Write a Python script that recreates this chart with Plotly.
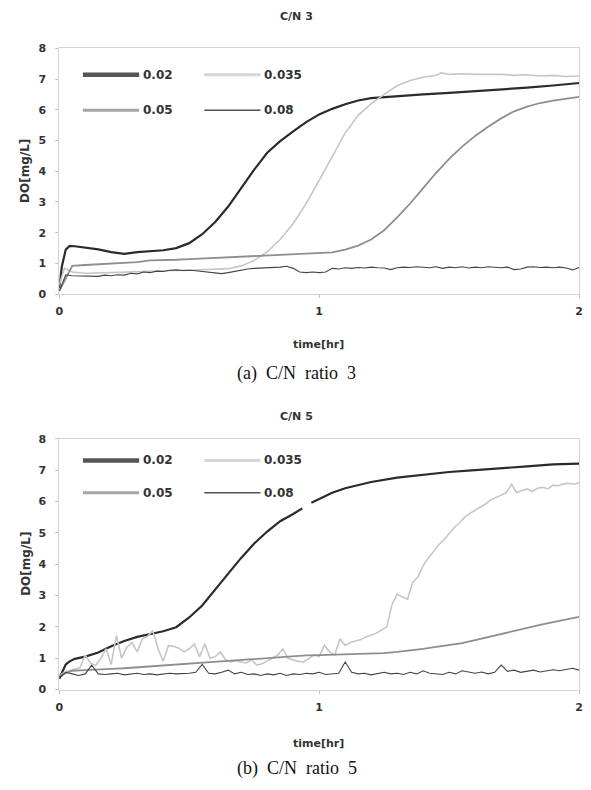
import plotly.graph_objects as go

# ---------------- data ----------------
series_names = ["0.02", "0.035", "0.05", "0.08"]
x_ticks = [0, 1, 2]
y_ticks = [0, 1, 2, 3, 4, 5, 6, 7, 8]

# time grids (hr)
t_step02 = [round(i * 0.02, 3) for i in range(101)]
t_step025 = [round(i * 0.025, 3) for i in range(81)]
t_step05 = [round(i * 0.05, 3) for i in range(41)]

# ---- (a) C/N 3 ----
t_a_002 = [0, 0.01, 0.025, 0.04, 0.06, 0.1, 0.15, 0.2, 0.25, 0.3, 0.35, 0.4, 0.45, 0.5, 0.55, 0.6,
           0.65, 0.7, 0.75, 0.8, 0.85, 0.9, 0.95, 1.0, 1.05, 1.1, 1.15, 1.2, 1.3, 1.4, 1.5, 1.6,
           1.7, 1.8, 1.9, 2.0]
v_a_002 = [0.2, 0.9, 1.45, 1.57, 1.56, 1.52, 1.46, 1.37, 1.31, 1.37, 1.40, 1.43, 1.50, 1.66, 1.95, 2.35,
           2.85, 3.45, 4.05, 4.6, 4.98, 5.3, 5.6, 5.85, 6.03, 6.18, 6.30, 6.38, 6.45, 6.5, 6.55, 6.6,
           6.66, 6.72, 6.79, 6.87]

t_a_0035 = [0, 0.02, 0.05, 0.1, 0.2, 0.3, 0.4, 0.5, 0.6, 0.65, 0.7, 0.75, 0.8, 0.85, 0.9, 0.95,
            1.0, 1.05, 1.1, 1.15, 1.2, 1.25, 1.3, 1.35, 1.4, 1.45, 1.47, 1.5, 1.55, 1.6, 1.65,
            1.7, 1.75, 1.8, 1.85, 1.9, 1.95, 2.0]
v_a_0035 = [0.3, 0.85, 0.72, 0.68, 0.7, 0.74, 0.76, 0.78, 0.8, 0.83, 0.92, 1.1, 1.38, 1.78, 2.3, 2.95,
            3.7, 4.5, 5.25, 5.82, 6.2, 6.5, 6.78, 6.95, 7.06, 7.12, 7.2, 7.15, 7.17, 7.15, 7.16,
            7.15, 7.12, 7.14, 7.1, 7.12, 7.08, 7.1]

v_a_005 = [0.1, 0.92, 0.95, 0.97, 0.98, 1.0, 1.04, 1.1, 1.1, 1.12, 1.14, 1.16, 1.18, 1.2, 1.22, 1.24,
           1.25, 1.26, 1.28, 1.3, 1.33, 1.36, 1.45, 1.58, 1.78, 2.08, 2.5, 2.95, 3.45, 3.95, 4.4,
           4.8, 5.15, 5.45, 5.72, 5.95, 6.1, 6.22, 6.3, 6.36, 6.42]

v_a_008 = [0.1, 0.63, 0.6, 0.6, 0.58, 0.6, 0.58, 0.62, 0.6, 0.63, 0.62, 0.68, 0.66, 0.72, 0.7, 0.75,
           0.74, 0.78, 0.79, 0.77, 0.78, 0.76, 0.74, 0.72, 0.69, 0.67, 0.7, 0.74, 0.79, 0.82, 0.84,
           0.85, 0.86, 0.86, 0.88, 0.91, 0.84, 0.72, 0.7, 0.72, 0.7, 0.72, 0.84, 0.82, 0.86, 0.84,
           0.87, 0.85, 0.88, 0.86, 0.85, 0.8, 0.86, 0.88, 0.87, 0.89, 0.87, 0.86, 0.89, 0.84, 0.88,
           0.86, 0.89, 0.85, 0.88, 0.86, 0.89, 0.87, 0.86, 0.88, 0.8, 0.82, 0.88, 0.89, 0.87, 0.88,
           0.86, 0.88, 0.85, 0.79, 0.87]

# ---- (b) C/N 5 ----
t_b_002 = [0, 0.01, 0.025, 0.04, 0.06, 0.1, 0.15, 0.2, 0.25, 0.3, 0.35, 0.4, 0.45, 0.5, 0.55, 0.6,
           0.65, 0.7, 0.75, 0.8, 0.85, 0.9, 0.935, 0.95, 0.97, 1.0, 1.05, 1.1, 1.15, 1.2, 1.3, 1.4,
           1.5, 1.6, 1.7, 1.8, 1.9, 2.0]
v_b_002 = [0.35, 0.55, 0.8, 0.9, 0.98, 1.05, 1.18, 1.38, 1.55, 1.68, 1.77, 1.86, 1.99, 2.3, 2.68, 3.2,
           3.7, 4.2, 4.66, 5.04, 5.37, 5.6, 5.78, None, 5.96, 6.08, 6.28, 6.42, 6.53, 6.62, 6.76, 6.86,
           6.94, 7.0, 7.07, 7.12, 7.18, 7.21]

v_b_0035 = [0.45, 0.55, 0.6, 0.65, 0.7, 1.1, 0.85, 0.77, 1.0, 1.3, 0.8, 1.72, 1.0, 1.35, 1.5, 1.2,
            1.62, 1.7, 1.88, 1.3, 0.9, 1.4, 1.38, 1.32, 1.2, 1.3, 1.45, 1.05, 1.46, 1.0, 1.05,
            1.2, 0.95, 0.88, 0.92, 0.88, 0.85, 0.95, 0.78, 0.82, 0.9, 1.0, 1.1, 1.3, 1.0, 0.95,
            0.9, 0.88, 1.0, 1.1, 1.05, 1.41, 1.2, 1.1, 1.62, 1.41, 1.5, 1.55, 1.6, 1.68, 1.75,
            1.8, 1.9, 2.0, 2.7, 3.05, 2.95, 2.88, 3.42, 3.6, 3.95, 4.2, 4.4, 4.62, 4.78, 4.98,
            5.17, 5.32, 5.5, 5.62, 5.72, 5.84, 5.92, 6.05, 6.12, 6.2, 6.28, 6.55, 6.28, 6.35,
            6.4, 6.32, 6.42, 6.45, 6.4, 6.52, 6.5, 6.56, 6.58, 6.55, 6.6]

v_b_005 = [0.45, 0.6, 0.62, 0.63, 0.66, 0.68, 0.71, 0.74, 0.77, 0.8, 0.84, 0.87, 0.9, 0.93, 0.96,
           0.99, 1.02, 1.05, 1.07, 1.09, 1.1, 1.11, 1.12, 1.13, 1.14, 1.16, 1.2, 1.24, 1.3, 1.36,
           1.42, 1.48, 1.58, 1.68, 1.78, 1.88, 1.97, 2.06, 2.15, 2.23, 2.32]

v_b_008 = [0.35, 0.55, 0.5, 0.45, 0.5, 0.78, 0.5, 0.48, 0.5, 0.52, 0.47, 0.5, 0.52, 0.48, 0.5, 0.47,
           0.5, 0.52, 0.5, 0.5, 0.52, 0.55, 0.8, 0.52, 0.5, 0.55, 0.62, 0.5, 0.55, 0.48, 0.5,
           0.45, 0.5, 0.47, 0.52, 0.45, 0.5, 0.48, 0.52, 0.5, 0.55, 0.48, 0.5, 0.52, 0.88, 0.55,
           0.5, 0.52, 0.47, 0.5, 0.55, 0.5, 0.52, 0.48, 0.55, 0.5, 0.6, 0.52, 0.5, 0.48, 0.55,
           0.5, 0.6, 0.55, 0.52, 0.56, 0.5, 0.55, 0.78, 0.58, 0.62, 0.55, 0.58, 0.62, 0.56, 0.6,
           0.63, 0.6, 0.65, 0.68, 0.62]

# ---------------- styling ----------------
W, H = 591, 790
FONT = "DejaVu Sans"
colors = {"0.02": "#2b2b2b", "0.035": "#c6c6c6", "0.05": "#8e8e8e", "0.08": "#444444"}
widths = {"0.02": 2.2, "0.035": 1.6, "0.05": 1.8, "0.08": 1.1}
leg_colors = {"0.02": "#555555", "0.035": "#d6d6d6", "0.05": "#a6a6a6", "0.08": "#505050"}
leg_widths = {"0.02": 4.5, "0.035": 3, "0.05": 3, "0.08": 1.5}


def px(x):
    return x / W


def py(y):
    return 1 - y / H


panels = [
    dict(xa="x", ya="y", top=43, bottom=293, title="C/N 3", title_y=11, xt_y=344, cap_y=374,
         caption="(a)\u00a0\u00a0C/N\u00a0\u00a0ratio\u00a0\u00a03",
         legrows=(70, 106),
         data=[(t_a_002, v_a_002), (t_a_0035, v_a_0035), (t_step05, v_a_005), (t_step025, v_a_008)]),
    dict(xa="x2", ya="y2", top=440, bottom=695, title="C/N 5", title_y=417, xt_y=750, cap_y=775,
         caption="(b)\u00a0\u00a0C/N\u00a0\u00a0ratio\u00a0\u00a05",
         legrows=(462, 495),
         data=[(t_b_002, v_b_002), (t_step02, v_b_0035), (t_step05, v_b_005), (t_step025, v_b_008)]),
]

fig = go.Figure()
shapes = []
annotations = []
L, R = 56, 583
tickfont = dict(family=FONT, size=11, color="#333333", weight="bold")

for i, p in enumerate(panels):
    for name, (tx, vy) in zip(series_names, p["data"]):
        fig.add_trace(go.Scatter(x=tx, y=vy, mode="lines", name=name, showlegend=False,
                                 connectgaps=False, xaxis=p["xa"], yaxis=p["ya"],
                                 line=dict(color=colors[name], width=widths[name])))
    sfx = "" if i == 0 else "2"
    fig.update_layout(**{
        "xaxis" + sfx: dict(domain=[px(L), px(R)], range=[0, 2], tickvals=x_ticks, ticks="outside",
                            ticklen=3, tickcolor="#c0c0c0", showline=True, mirror=True,
                            linecolor="#d4d4d4", linewidth=1, showgrid=False, zeroline=False,
                            tickfont=tickfont, ticklabelstandoff=4,
                            anchor="y" + sfx, fixedrange=True),
        "yaxis" + sfx: dict(domain=[py(p["bottom"]), py(p["top"])], range=[0, 8], tickvals=y_ticks,
                            ticks="outside", ticklen=3, tickcolor="#c0c0c0", showline=True,
                            mirror=True, linecolor="#d4d4d4", linewidth=1, showgrid=False,
                            zeroline=False, tickfont=tickfont, ticklabelstandoff=7,
                            anchor="x" + sfx, fixedrange=True),
    })
    # legend (manual, inside plot)
    cols = [(80, 137, 139), (203, 260, 262)]
    for k, name in enumerate(series_names):
        row = k // 2
        col = k % 2
        x0, x1, xt = cols[col]
        yy = p["legrows"][row]
        shapes.append(dict(type="line", xref="paper", yref="paper", x0=px(x0), x1=px(x1),
                           y0=py(yy), y1=py(yy),
                           line=dict(color=leg_colors[name], width=leg_widths[name])))
        annotations.append(dict(text=name, xref="paper", yref="paper", x=px(xt), y=py(yy),
                                xanchor="left", yanchor="middle", showarrow=False,
                                font=dict(family=FONT, size=12, color="#333333", weight="bold")))
    # titles
    annotations.append(dict(text=p["title"], xref="paper", yref="paper", x=px(297), y=py(p["title_y"]),
                            xanchor="center", yanchor="middle", showarrow=False,
                            font=dict(family=FONT, size=11, color="#333333", weight="bold")))
    annotations.append(dict(text="DO[mg/L]", xref="paper", yref="paper", x=px(22),
                            y=py((p["top"] + p["bottom"]) / 2), textangle=-90,
                            xanchor="center", yanchor="middle", showarrow=False,
                            font=dict(family=FONT, size=12, color="#333333", weight="bold")))
    annotations.append(dict(text="time[hr]", xref="paper", yref="paper", x=px(319),
                            y=py(p["xt_y"]), xanchor="center", yanchor="middle",
                            showarrow=False,
                            font=dict(family=FONT, size=11, color="#333333", weight="bold")))
    annotations.append(dict(text=p["caption"], xref="paper", yref="paper", x=px(297),
                            y=py(p["cap_y"]), xanchor="center", yanchor="middle",
                            showarrow=False,
                            font=dict(family="Liberation Serif", size=18, color="#111111")))

fig.update_layout(width=W, height=H, margin=dict(l=0, r=0, t=0, b=0),
                  paper_bgcolor="white", plot_bgcolor="white",
                  shapes=shapes, annotations=annotations, showlegend=False)

fig.write_html("out.html", config={"displayModeBar": False},
               post_script="document.body.style.margin='0';document.body.style.overflow='hidden';")
